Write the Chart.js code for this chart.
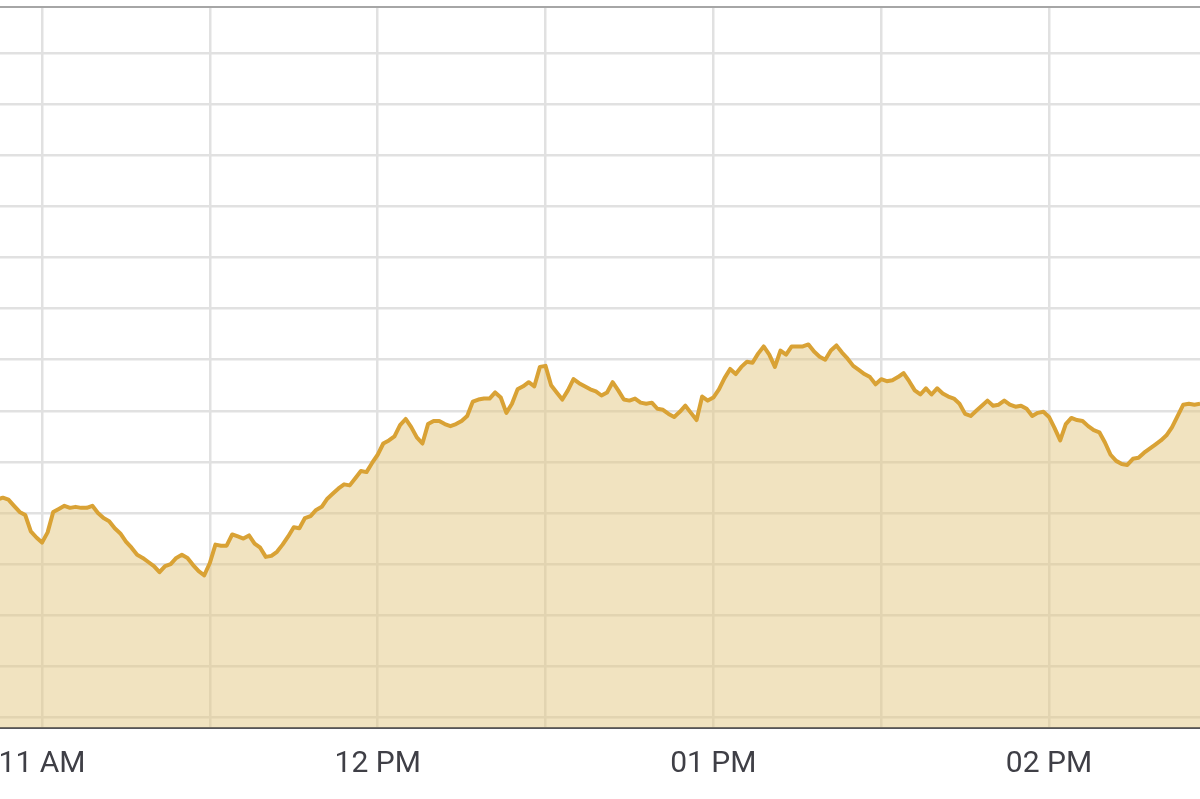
<!DOCTYPE html>
<html>
<head>
<meta charset="utf-8">
<script src="https://cdn.jsdelivr.net/npm/chart.js@4.4.1/dist/chart.umd.min.js"></script>
<style>
  html, body { margin: 0; padding: 0; background: #fff; overflow: hidden; }
  canvas { display: block; }
</style>
</head>
<body>
<canvas id="intradayChart" width="1200" height="799"></canvas>
<script>
// one reading per minute
const times = [
  '10:52','10:53','10:54','10:55','10:56','10:57','10:58','10:59',
  '11:00','11:01','11:02','11:03','11:04','11:05','11:06','11:07','11:08','11:09',
  '11:10','11:11','11:12','11:13','11:14','11:15','11:16','11:17','11:18','11:19',
  '11:20','11:21','11:22','11:23','11:24','11:25','11:26','11:27','11:28','11:29',
  '11:30','11:31','11:32','11:33','11:34','11:35','11:36','11:37','11:38','11:39',
  '11:40','11:41','11:42','11:43','11:44','11:45','11:46','11:47','11:48','11:49',
  '11:50','11:51','11:52','11:53','11:54','11:55','11:56','11:57','11:58','11:59',
  '12:00','12:01','12:02','12:03','12:04','12:05','12:06','12:07','12:08','12:09',
  '12:10','12:11','12:12','12:13','12:14','12:15','12:16','12:17','12:18','12:19',
  '12:20','12:21','12:22','12:23','12:24','12:25','12:26','12:27','12:28','12:29',
  '12:30','12:31','12:32','12:33','12:34','12:35','12:36','12:37','12:38','12:39',
  '12:40','12:41','12:42','12:43','12:44','12:45','12:46','12:47','12:48','12:49',
  '12:50','12:51','12:52','12:53','12:54','12:55','12:56','12:57','12:58','12:59',
  '13:00','13:01','13:02','13:03','13:04','13:05','13:06','13:07','13:08','13:09',
  '13:10','13:11','13:12','13:13','13:14','13:15','13:16','13:17','13:18','13:19',
  '13:20','13:21','13:22','13:23','13:24','13:25','13:26','13:27','13:28','13:29',
  '13:30','13:31','13:32','13:33','13:34','13:35','13:36','13:37','13:38','13:39',
  '13:40','13:41','13:42','13:43','13:44','13:45','13:46','13:47','13:48','13:49',
  '13:50','13:51','13:52','13:53','13:54','13:55','13:56','13:57','13:58','13:59',
  '14:00','14:01','14:02','14:03','14:04','14:05','14:06','14:07','14:08','14:09',
  '14:10','14:11','14:12','14:13','14:14','14:15','14:16','14:17','14:18','14:19',
  '14:20','14:21','14:22','14:23','14:24','14:25','14:26','14:27','14:28'
];

const values = [
  45213, 45215, 45213, 45207, 45201, 45198, 45182, 45176,
  45171, 45181, 45201, 45204, 45207, 45205, 45206, 45205, 45205, 45207,
  45200, 45195, 45192, 45185, 45180, 45172, 45166, 45159, 45156, 45152,
  45148, 45142, 45148, 45150, 45156, 45159, 45156, 45149, 45143, 45139,
  45151, 45169, 45168, 45168, 45179, 45177, 45175, 45178, 45170, 45166,
  45157, 45158, 45162, 45169, 45177, 45186, 45185, 45195, 45197, 45203,
  45206, 45214, 45219, 45224, 45228, 45227, 45234, 45241, 45240, 45249,
  45257, 45268, 45271, 45275, 45286, 45292, 45284, 45274, 45268, 45287,
  45290, 45290, 45287, 45285, 45287, 45290, 45295, 45309, 45311, 45312,
  45312, 45318, 45313, 45298, 45307, 45321, 45324, 45328, 45324, 45343,
  45344, 45325, 45318, 45311, 45320, 45331, 45327, 45324, 45321, 45319,
  45315, 45318, 45328, 45320, 45311, 45310, 45312, 45308, 45307, 45308,
  45302, 45301, 45297, 45294, 45299, 45305, 45298, 45291, 45314, 45310,
  45313, 45321, 45332, 45341, 45336, 45343, 45348, 45347, 45356, 45363,
  45355, 45343, 45359, 45355, 45363, 45363, 45363, 45365, 45358, 45353,
  45350, 45359, 45364, 45357, 45351, 45344, 45340, 45336, 45333, 45326,
  45331, 45329, 45330, 45333, 45337, 45329, 45320, 45316, 45322, 45316,
  45322, 45317, 45314, 45312, 45307, 45297, 45295, 45300, 45305, 45310,
  45305, 45306, 45310, 45306, 45304, 45305, 45302, 45295, 45298, 45299,
  45294, 45283, 45271, 45287, 45293, 45291, 45290, 45285, 45281, 45279,
  45269, 45257, 45251, 45248, 45247, 45253, 45254, 45259, 45263, 45267,
  45271, 45276, 45284, 45295, 45306, 45307, 45306, 45307, 45308
];

// x axis: minutes of the day
const gridMinutes = [660, 690, 720, 750, 780, 810, 840];
const hourMinutes = [660, 720, 780, 840];
const hourLabels = ['11 AM', '12 PM', '01 PM', '02 PM'];
const xMin = 652.49;
const xMax = 866.99;

// y axis (values hidden in the crop)
const yGrid = [45000, 45050, 45100, 45150, 45200, 45250, 45300, 45350, 45400, 45450, 45500, 45550, 45600, 45650];
const yMin = 44989.8;
const yMax = 45695.6;

function toMin(t) {
    const [h, m] = t.split(':').map(Number);
    return h * 60 + m;
}

const points = times.map((t, i) => ({ x: toMin(t), y: values[i] }));

new Chart(document.getElementById('intradayChart'), {
    type: 'line',
    data: {
        datasets: [{
            data: points,
            borderColor: '#d9a235',
            backgroundColor: 'rgba(228, 200, 130, 0.5)',
            borderWidth: 4,
            borderJoinStyle: 'round',
            pointRadius: 0,
            tension: 0,
            fill: 'start'
        }]
    },
    options: {
        responsive: false,
        animation: false,
        layout: { padding: { top: 6.7, left: 0, right: 0, bottom: 0 } },
        plugins: {
            legend: { display: false },
            tooltip: { enabled: false }
        },
        scales: {
            x: {
                type: 'linear',
                min: xMin,
                max: xMax,
                afterBuildTicks: scale => {
                    scale.ticks = gridMinutes.map(v => ({ value: v }));
                },
                afterFit: scale => {
                    scale.height = 71.3;
                    scale.paddingLeft = 0;
                    scale.paddingRight = 0;
                },
                ticks: {
                    autoSkip: false,
                    maxRotation: 0,
                    padding: 19,
                    color: '#3f3f46',
                    font: { family: 'Roboto', size: 30 },
                    callback: value => {
                        const i = hourMinutes.indexOf(value);
                        return i >= 0 ? hourLabels[i] : '';
                    }
                },
                grid: { color: '#e1e1e1', lineWidth: 2.5, drawTicks: false },
                border: { display: true, color: '#55555a', width: 2 }
            },
            y: {
                min: yMin,
                max: yMax,
                afterBuildTicks: scale => {
                    scale.ticks = yGrid.concat([yMax]).map(v => ({ value: v }));
                },
                ticks: { display: false },
                grid: {
                    color: c => c.tick && c.tick.value === yMax ? '#a6a6a6' : '#e1e1e1',
                    lineWidth: c => c.tick && c.tick.value === yMax ? 2 : 2.5,
                    drawTicks: false
                },
                border: { display: false }
            }
        }
    }
});
</script>
</body>
</html>
